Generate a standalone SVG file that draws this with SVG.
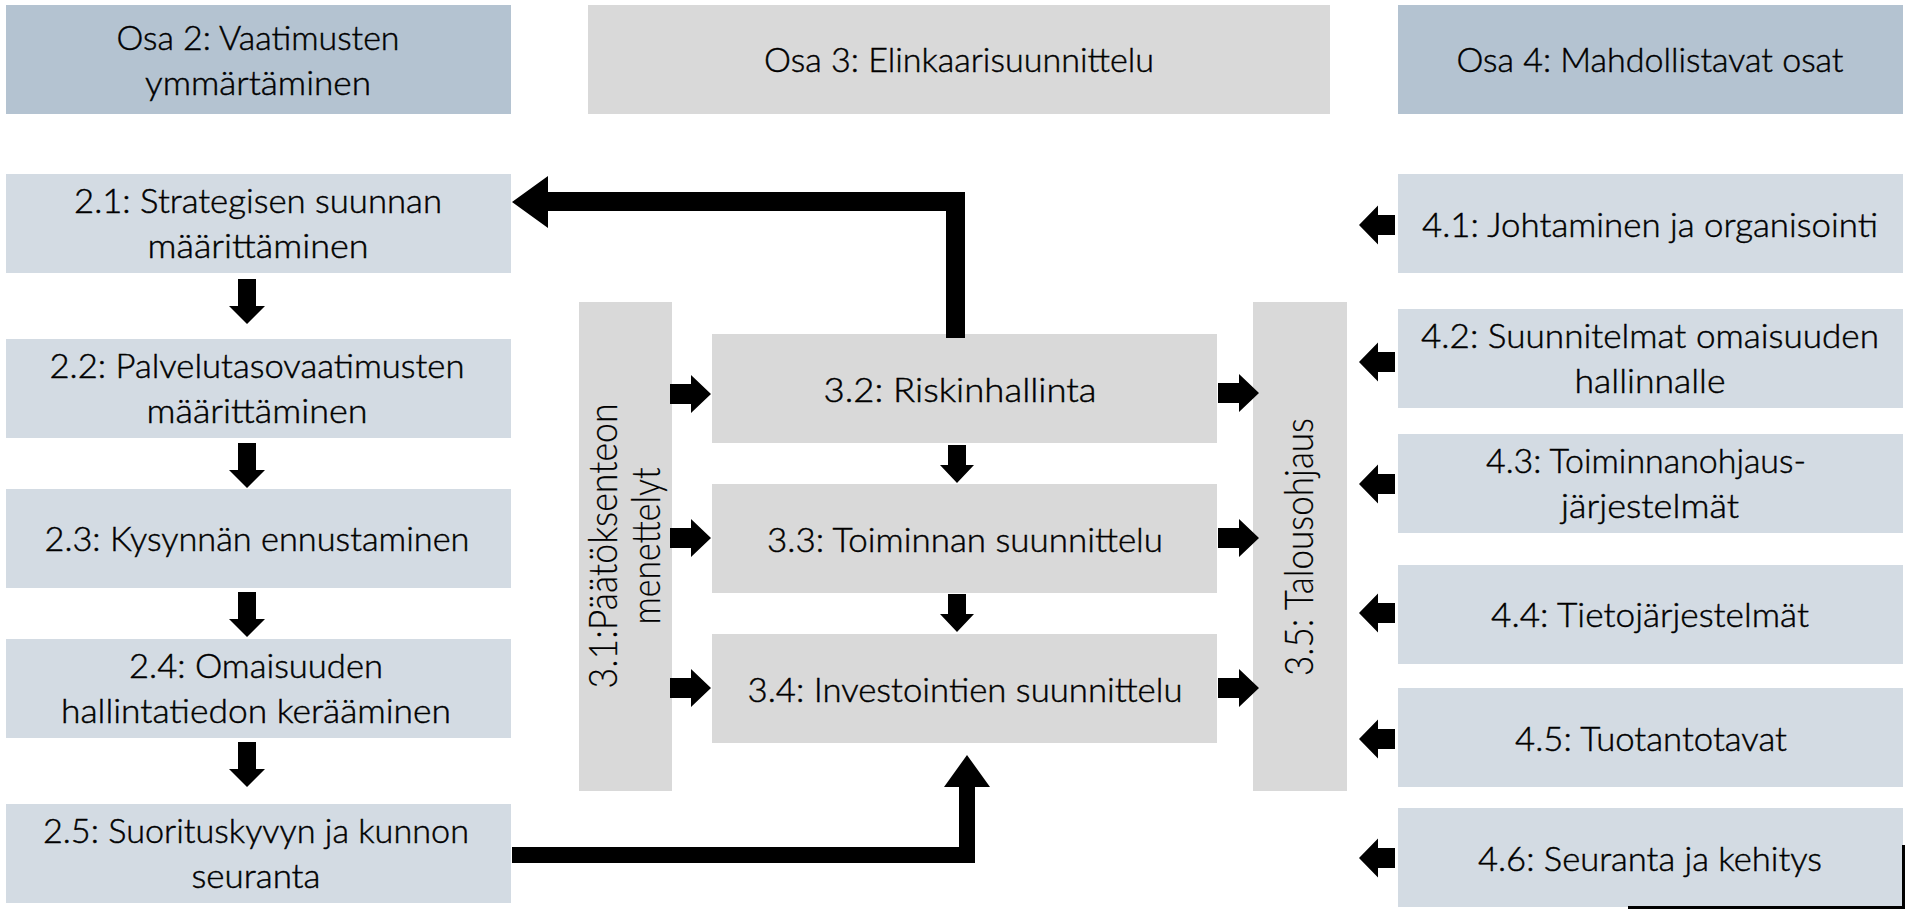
<svg xmlns="http://www.w3.org/2000/svg" xmlns:xlink="http://www.w3.org/1999/xlink" width="1908" height="909" viewBox="0 0 1908 909">
<style>
.hA{fill:#B4C3D1}
.hB{fill:#D9D9D9}
.bA{fill:#D3DBE3}
.bB{fill:#D9D9D9}
text{font-family:Lato,"Liberation Sans",sans-serif;font-weight:300;font-size:33px;fill:#000;stroke:#000;stroke-width:0.45px;text-anchor:middle}
.v{font-size:39px;stroke-width:0.2px}
.arr{fill:#000}
</style>
<defs>
<path id="arR" d="M0,-10 H21 V-19 L41,0 L21,19 V10 H0 Z"/>
<path id="arL" d="M0,0 L19,-19.5 V-10 H36 V10 H19 V19.5 Z"/>
<path id="arD45" d="M-9,0 H9 V27 H18 L0,45 L-18,27 H-9 Z"/>
<path id="arD38" d="M-9,0 H9 V20 H17 L0,38 L-17,20 H-9 Z"/>
</defs>
<rect width="1908" height="909" fill="#fff"/>

<g id="hdr-osa2"><rect class="hA" x="6" y="5" width="505" height="109"/>
<text x="258" y="50" textLength="283" lengthAdjust="spacingAndGlyphs">Osa 2: Vaatimusten</text>
<text x="258" y="95" textLength="226" lengthAdjust="spacingAndGlyphs">ymmärtäminen</text></g>
<g id="hdr-osa3"><rect class="hB" x="588" y="5" width="742" height="109"/>
<text x="959" y="72" textLength="390" lengthAdjust="spacingAndGlyphs">Osa 3: Elinkaarisuunnittelu</text></g>
<g id="hdr-osa4"><rect class="hA" x="1398" y="5" width="505" height="109"/>
<text x="1650" y="72" textLength="387" lengthAdjust="spacingAndGlyphs">Osa 4: Mahdollistavat osat</text></g>

<g id="n2-1"><rect class="bA" x="6" y="174" width="505" height="99"/>
<text x="258" y="213" textLength="368" lengthAdjust="spacingAndGlyphs">2.1: Strategisen suunnan</text>
<text x="258" y="258" textLength="221" lengthAdjust="spacingAndGlyphs">määrittäminen</text></g>
<g id="n2-2"><rect class="bA" x="6" y="339" width="505" height="99"/>
<text x="257" y="378" textLength="415" lengthAdjust="spacingAndGlyphs">2.2: Palvelutasovaatimusten</text>
<text x="257" y="423" textLength="221" lengthAdjust="spacingAndGlyphs">määrittäminen</text></g>
<g id="n2-3"><rect class="bA" x="6" y="489" width="505" height="99"/>
<text x="257" y="551" textLength="425" lengthAdjust="spacingAndGlyphs">2.3: Kysynnän ennustaminen</text></g>
<g id="n2-4"><rect class="bA" x="6" y="639" width="505" height="99"/>
<text x="256" y="678" textLength="254" lengthAdjust="spacingAndGlyphs">2.4: Omaisuuden</text>
<text x="256" y="723" textLength="390" lengthAdjust="spacingAndGlyphs">hallintatiedon kerääminen</text></g>
<g id="n2-5"><rect class="bA" x="6" y="804" width="505" height="99"/>
<text x="256" y="843" textLength="426" lengthAdjust="spacingAndGlyphs">2.5: Suorituskyvyn ja kunnon</text>
<text x="256" y="888" textLength="129" lengthAdjust="spacingAndGlyphs">seuranta</text></g>

<g id="n3-1"><rect class="bB" x="579" y="302" width="93" height="489"/>
<text class="v" transform="translate(617,546) rotate(-90)" textLength="285" lengthAdjust="spacingAndGlyphs">3.1:Päätöksenteon</text>
<text class="v" transform="translate(660,546) rotate(-90)" textLength="157" lengthAdjust="spacingAndGlyphs">menettelyt</text></g>
<g id="n3-2"><rect class="bB" x="712" y="334" width="505" height="109"/>
<text x="960" y="402" textLength="273" lengthAdjust="spacingAndGlyphs">3.2: Riskinhallinta</text></g>
<g id="n3-3"><rect class="bB" x="712" y="484" width="505" height="109"/>
<text x="965" y="552" textLength="396" lengthAdjust="spacingAndGlyphs">3.3: Toiminnan suunnittelu</text></g>
<g id="n3-4"><rect class="bB" x="712" y="634" width="505" height="109"/>
<text x="965" y="702" textLength="435" lengthAdjust="spacingAndGlyphs">3.4: Investointien suunnittelu</text></g>
<g id="n3-5"><rect class="bB" x="1253" y="302" width="94" height="489"/>
<text class="v" transform="translate(1313,547) rotate(-90)" textLength="258" lengthAdjust="spacingAndGlyphs">3.5: Talousohjaus</text></g>

<g id="n4-1"><rect class="bA" x="1398" y="174" width="505" height="99"/>
<text x="1650" y="237" textLength="456" lengthAdjust="spacingAndGlyphs">4.1: Johtaminen ja organisointi</text></g>
<g id="n4-2"><rect class="bA" x="1398" y="309" width="505" height="99"/>
<text x="1650" y="348" textLength="458" lengthAdjust="spacingAndGlyphs">4.2: Suunnitelmat omaisuuden</text>
<text x="1650" y="393" textLength="151" lengthAdjust="spacingAndGlyphs">hallinnalle</text></g>
<g id="n4-3"><rect class="bA" x="1398" y="434" width="505" height="99"/>
<text x="1646" y="473" textLength="320" lengthAdjust="spacingAndGlyphs">4.3: Toiminnanohjaus-</text>
<text x="1650" y="518" textLength="178" lengthAdjust="spacingAndGlyphs">järjestelmät</text></g>
<g id="n4-4"><rect class="bA" x="1398" y="565" width="505" height="99"/>
<text x="1650" y="627" textLength="318" lengthAdjust="spacingAndGlyphs">4.4: Tietojärjestelmät</text></g>
<g id="n4-5"><rect class="bA" x="1398" y="688" width="505" height="99"/>
<text x="1651" y="751" textLength="272" lengthAdjust="spacingAndGlyphs">4.5: Tuotantotavat</text></g>
<g id="n4-6"><rect class="bA" x="1398" y="808" width="505" height="99"/>
<text x="1650" y="871" textLength="344" lengthAdjust="spacingAndGlyphs">4.6: Seuranta ja kehitys</text></g>

<g id="connectors" class="arr">
<use xlink:href="#arD45" href="#arD45" x="247" y="279"/>
<use xlink:href="#arD45" href="#arD45" x="247" y="443"/>
<use xlink:href="#arD45" href="#arD45" x="247" y="592"/>
<use xlink:href="#arD45" href="#arD45" x="247" y="742"/>
<use xlink:href="#arD38" href="#arD38" x="957" y="445"/>
<use xlink:href="#arD38" href="#arD38" x="957" y="594"/>
<use xlink:href="#arR" href="#arR" x="670" y="394"/>
<use xlink:href="#arR" href="#arR" x="670" y="538"/>
<use xlink:href="#arR" href="#arR" x="670" y="688"/>
<use xlink:href="#arR" href="#arR" x="1218" y="393"/>
<use xlink:href="#arR" href="#arR" x="1218" y="538"/>
<use xlink:href="#arR" href="#arR" x="1218" y="688"/>
<use xlink:href="#arL" href="#arL" x="1359" y="225"/>
<use xlink:href="#arL" href="#arL" x="1359" y="362"/>
<use xlink:href="#arL" href="#arL" x="1359" y="484"/>
<use xlink:href="#arL" href="#arL" x="1359" y="613"/>
<use xlink:href="#arL" href="#arL" x="1359" y="739"/>
<use xlink:href="#arL" href="#arL" x="1359" y="858"/>
<path d="M965,338 V192 H548 V176 L512,202 L548,228 V211 H946 V338 Z"/>
<path d="M512,847 H959 V787 H944 L967,755 L990,787 H975 V863 H512 Z"/>
</g>
<path d="M1628,907.5 H1903.5 V845" fill="none" stroke="#000" stroke-width="3"/>
</svg>
